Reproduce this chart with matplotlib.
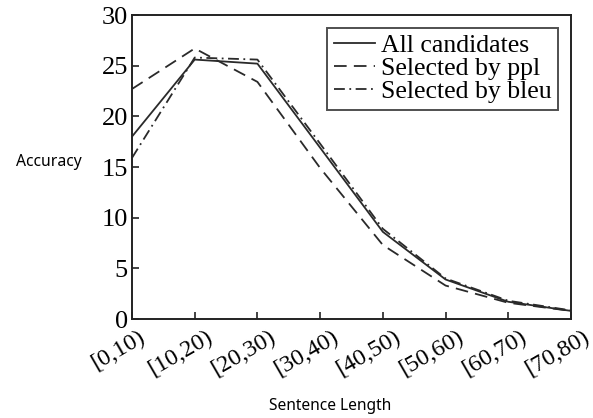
import matplotlib
matplotlib.use("Agg")
import matplotlib.pyplot as plt
import matplotlib.transforms as mtransforms

categories = ["[0,10)", "[10,20)", "[20,30)", "[30,40)", "[40,50)", "[50,60)", "[60,70)", "[70,80)"]
all_candidates = [18.0, 25.6, 25.2, 16.9, 8.6, 3.9, 1.7, 0.8]
selected_ppl = [22.7, 26.7, 23.4, 14.9, 7.3, 3.3, 1.6, 0.8]
selected_bleu = [15.9, 25.8, 25.6, 17.3, 8.9, 4.0, 1.8, 0.85]
yticks = [0, 5, 10, 15, 20, 25, 30]

serif = "Liberation Serif"
fig = plt.figure(figsize=(5.93, 4.18), dpi=100)
ax = fig.add_axes([132/593, 1-319/418, (571-132)/593, (319-15)/418])

x = list(range(len(categories)))
c = "#2a2a2a"
ax.plot(x, all_candidates, color=c, lw=1.3, ls="-", label="All candidates")
ax.plot(x, selected_ppl, color=c, lw=1.3, ls=(0, (7, 4)), label="Selected by ppl")
ax.plot(x, selected_bleu, color=c, lw=1.3, ls=(0, (6, 2.5, 1, 2.5)), label="Selected by bleu")

ax.set_xlim(0, 7)
ax.set_ylim(0, 30)
ax.set_yticks(yticks)
ax.set_yticklabels([str(v) for v in yticks], fontfamily=serif, fontsize=19)
ax.set_xticks(x)
ax.set_xticklabels(categories, fontfamily=serif, fontsize=17.5, rotation=30, ha="center")
ax.tick_params(direction="in", length=5, width=1.2, color="#222222", pad=4)
ax.tick_params(axis="y", pad=3)
offset = mtransforms.ScaledTranslation(-14/100, -2/100, fig.dpi_scale_trans)
for lab in ax.get_xticklabels():
    lab.set_transform(lab.get_transform() + offset)
for sp in ax.spines.values():
    sp.set_linewidth(1.4)
    sp.set_color("#222222")

leg = ax.legend(loc="upper right", prop={"family": serif, "size": 18.5}, frameon=True,
                fancybox=False, edgecolor="#222222", labelspacing=0.0, handlelength=1.6,
                handletextpad=0.25, borderpad=0.25, borderaxespad=0.5)
leg.get_frame().set_linewidth(1.4)

fig.text(49/593, 1-162/418, "Accuracy", fontfamily="Noto Sans", fontsize=11.3, ha="center", va="center")
fig.text(330/593, 1-406/418, "Sentence Length", fontfamily="Noto Sans", fontsize=11.2, ha="center", va="center")

fig.savefig("out.png", dpi=100)
